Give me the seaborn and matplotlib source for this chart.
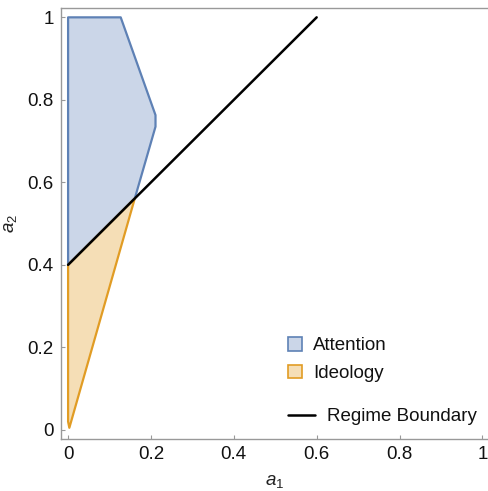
import matplotlib
matplotlib.use("Agg")
import matplotlib.pyplot as plt
import seaborn as sns
import pandas as pd
from matplotlib.patches import Patch
from matplotlib.lines import Line2D

# Data
attention_a1 = [0.0, 0.0, 0.127, 0.211, 0.211, 0.161, 0.0]
attention_a2 = [0.40, 1.00, 1.00, 0.763, 0.735, 0.561, 0.40]
ideology_a1 = [0.0, 0.161, 0.003, 0.0, 0.0]
ideology_a2 = [0.40, 0.561, 0.005, 0.02, 0.40]
boundary_a1 = [0.0, 0.6]
boundary_a2 = [0.4, 1.0]
ticks = [0, 0.2, 0.4, 0.6, 0.8, 1]
tick_labels = ["0", "0.2", "0.4", "0.6", "0.8", "1"]

sns.set_style("ticks")
plt.rcParams['font.family'] = ['Liberation Sans', 'DejaVu Sans']
plt.rcParams['mathtext.fontset'] = 'custom'
plt.rcParams['mathtext.rm'] = 'Liberation Sans'
plt.rcParams['mathtext.it'] = 'Liberation Sans:italic'

blue_edge = "#5E81B5"
blue_fill = "#CBD6E8"
orange_edge = "#E19C24"
orange_fill = "#F5DEB6"

fig = plt.figure(figsize=(4.89, 4.91), dpi=100)
ax = fig.add_axes([0.124, 0.106, 0.876, 0.878])

ax.fill(attention_a1, attention_a2, facecolor=blue_fill, edgecolor=blue_edge,
        linewidth=1.6, zorder=2, joinstyle='round')
ax.fill(ideology_a1, ideology_a2, facecolor=orange_fill, edgecolor=orange_edge,
        linewidth=1.6, zorder=2, joinstyle='round')
df = pd.DataFrame({"a1": boundary_a1, "a2": boundary_a2})
sns.lineplot(data=df, x="a1", y="a2", ax=ax, color="black", linewidth=1.8, zorder=3)

ax.set_xlim(-0.018, 1.016)
ax.set_ylim(-0.022, 1.023)
ax.set_xticks(ticks)
ax.set_xticklabels(tick_labels)
ax.set_yticks(ticks)
ax.set_yticklabels(tick_labels)
ax.tick_params(direction='in', length=3, width=0.8, color='#999999',
               labelsize=13.5, labelcolor='#111111', pad=5)
for s in ['left', 'bottom', 'top', 'right']:
    ax.spines[s].set_color('#999999')
    ax.spines[s].set_linewidth(1.0)

ax.set_xlabel(r"$a_1$", fontsize=13.5, color='#222222', labelpad=7)
ax.set_ylabel(r"$a_2$", fontsize=13.5, color='#222222', labelpad=6)

# Legend for regions
patch_handles = [
    Patch(facecolor=blue_fill, edgecolor=blue_edge, linewidth=1.2),
    Patch(facecolor=orange_fill, edgecolor=orange_edge, linewidth=1.2),
]
leg1 = ax.legend(patch_handles, ["Attention", "Ideology"], loc='center left',
                 bbox_to_anchor=(0.531, 0.184), frameon=False, fontsize=13.5,
                 handlelength=0.72, handleheight=0.72, handletextpad=0.6,
                 labelspacing=0.55, borderaxespad=0, borderpad=0)
for t in leg1.get_texts():
    t.set_color('#111111')
ax.add_artist(leg1)

line_handles = [Line2D([], [], color='black', linewidth=1.8)]
leg2 = ax.legend(line_handles, ["Regime Boundary"], loc='center left',
                 bbox_to_anchor=(0.531, 0.052), frameon=False, fontsize=13.5,
                 handlelength=1.45, handletextpad=0.6, borderaxespad=0, borderpad=0)
for t in leg2.get_texts():
    t.set_color('#111111')

fig.savefig("out.png", dpi=100)
